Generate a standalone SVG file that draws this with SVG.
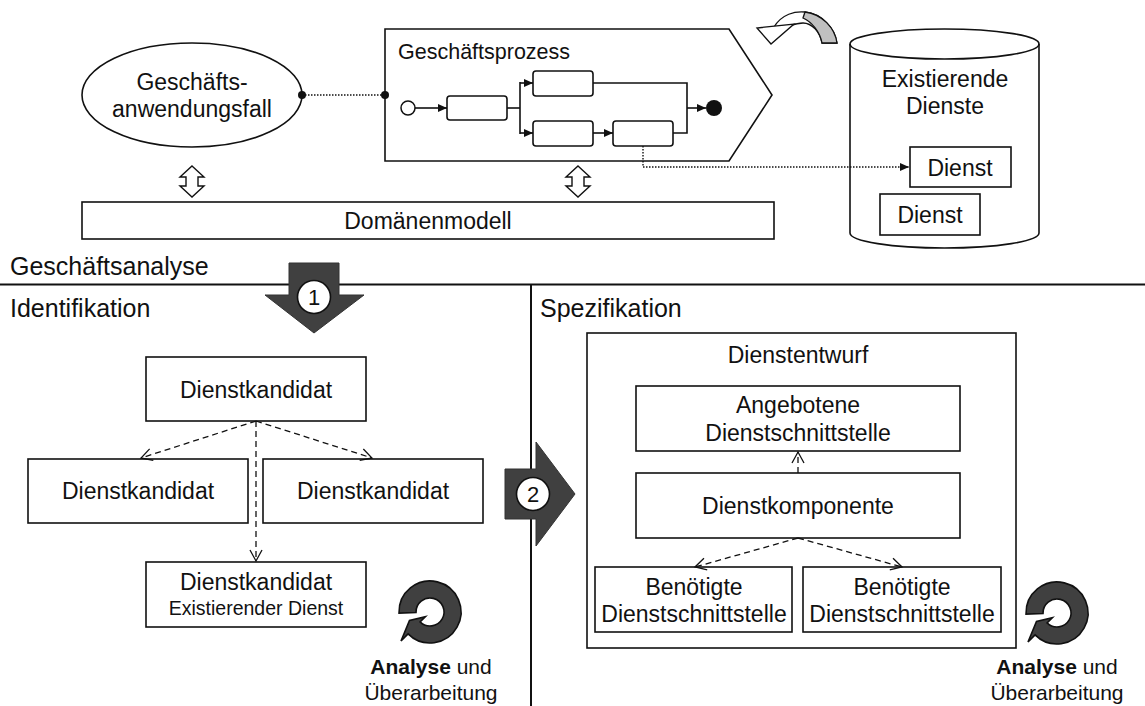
<svg xmlns="http://www.w3.org/2000/svg" width="1145" height="706" viewBox="0 0 1145 706">
<style>
text{font-family:"Liberation Sans",Arial,sans-serif;fill:#111}
.t{font-size:23px;text-anchor:middle}
.s{font-size:19.5px;text-anchor:middle}
.h{font-size:25px}
.box{fill:#fff;stroke:#111;stroke-width:1.6}
.ln{fill:none;stroke:#111;stroke-width:1.6}
.dot{fill:none;stroke:#111;stroke-width:1.4;stroke-dasharray:1.5 1.5}
.dash{fill:none;stroke:#111;stroke-width:1.3;stroke-dasharray:6 4}
.big{fill:#404040;stroke:#333;stroke-width:1}
.cyc{fill:#404040;stroke:#111;stroke-width:1.6}
.num{fill:#fff;stroke:#111;stroke-width:1.6}
</style>
<defs>
<marker id="fa" markerWidth="10" markerHeight="10" refX="9" refY="5" orient="auto" markerUnits="userSpaceOnUse">
<path d="M0,1 L9,5 L0,9 Z" fill="#111"/>
</marker>
<marker id="va" markerWidth="14" markerHeight="14" refX="12" refY="7" orient="auto" markerUnits="userSpaceOnUse">
<path d="M1,1 L12,7 L1,13" fill="none" stroke="#111" stroke-width="1.3"/>
</marker>
<marker id="dt" markerWidth="10" markerHeight="10" refX="5" refY="5" markerUnits="userSpaceOnUse">
<circle cx="5" cy="5" r="4" fill="#111"/>
</marker>
<path id="dbl" d="M0,0 L12,11 L6,11 L6,20 L12,20 L0,31 L-12,20 L-6,20 L-6,11 L-12,11 Z"/>
<path id="cyc" d="M-30.98,1.08 A31,31 0 1 1 -21.92,21.92 L-28.99,28.99 L-20.5,8.5 L-4.6,4.6 L-9.90,9.90 A14,14 0 1 0 -13.99,0.49 Z"/>
</defs>

<!-- section frame -->
<g id="frame">
<line x1="0" y1="284.5" x2="1145" y2="284.5" stroke="#111" stroke-width="2"/>
<line x1="531" y1="285" x2="531" y2="706" stroke="#111" stroke-width="2"/>
<text class="h" x="10" y="275">Geschäftsanalyse</text>
<text class="h" x="10" y="317">Identifikation</text>
<text class="h" x="540" y="317">Spezifikation</text>
</g>

<!-- top section -->
<g id="usecase">
<ellipse class="box" cx="192" cy="95" rx="110" ry="52"/>
<text class="t" x="192" y="90">Geschäfts-</text>
<text class="t" x="192" y="117">anwendungsfall</text>
</g>

<g id="process">
<polygon class="box" points="385,29 729,29 772,95 729,161 385,161"/>
<text x="398" y="59" style="font-size:21.5px">Geschäftsprozess</text>
<circle cx="408" cy="108" r="7" fill="#fff" stroke="#111" stroke-width="1.5"/>
<rect class="box" x="447" y="96" width="60" height="24" rx="3"/>
<rect class="box" x="533" y="71" width="60" height="25" rx="3"/>
<rect class="box" x="533" y="121" width="60" height="25" rx="3"/>
<rect class="box" x="613" y="121" width="60" height="25" rx="3"/>
<circle cx="714" cy="108" r="8" fill="#111"/>
<line class="ln" x1="415" y1="108" x2="447" y2="108" marker-end="url(#fa)"/>
<polyline class="ln" points="507,108 520,108"/>
<line class="ln" x1="520" y1="82" x2="520" y2="134"/>
<line class="ln" x1="520" y1="83" x2="533" y2="83" marker-end="url(#fa)"/>
<line class="ln" x1="520" y1="133" x2="533" y2="133" marker-end="url(#fa)"/>
<line class="ln" x1="593" y1="133" x2="613" y2="133" marker-end="url(#fa)"/>
<polyline class="ln" points="593,83 687,83 687,133 673,133"/>
<line class="ln" x1="687" y1="108" x2="706" y2="108" marker-end="url(#fa)"/>
</g>

<g id="rotate-arrow">
<path d="M774,27 C782,14 795,11 805,12 C822,14 835,28 837,43 L822,43 C820,32 812,23 803,23 C797,23 792,25 789,26 Z" fill="#fff" stroke="#111" stroke-width="1.3"/>
<path d="M805,12 C822,14 835,28 837,43 L822,43 C820,32 812,22 803,18 Z" fill="#c0c0c0" stroke="#111" stroke-width="1.3"/>
<polygon points="757,28 771,44 794,24" fill="#fff" stroke="#111" stroke-width="1.3"/>
</g>

<g id="existing">
<path class="box" d="M850,44 A94.5,15 0 0 1 1039,44 L1039,233 A94.5,15 0 0 1 850,233 Z"/>
<path class="ln" d="M850,44 A94.5,15 0 0 0 1039,44"/>
<text class="t" x="945" y="87">Existierende</text>
<text class="t" x="945" y="114">Dienste</text>
</g>
<g id="dienst1">
<rect class="box" x="910" y="147" width="101" height="40"/>
<text class="t" x="960" y="176">Dienst</text>
</g>
<g id="dienst2">
<rect class="box" x="880" y="194" width="100" height="41"/>
<text class="t" x="930" y="223">Dienst</text>
</g>

<g id="domain">
<rect class="box" x="82" y="202" width="692" height="37"/>
<text class="t" x="428" y="229">Domänenmodell</text>
</g>

<g id="dbl-arrows">
<use href="#dbl" x="192" y="166" fill="#fff" stroke="#111" stroke-width="1.4"/>
<use href="#dbl" x="578" y="166" fill="#fff" stroke="#111" stroke-width="1.4"/>
</g>

<!-- step arrows -->
<g id="step1">
<polygon class="big" points="289,263 339,263 339,295 364,295 314,333 265,295 289,295"/>
<circle class="num" cx="314" cy="297" r="16.5"/>
<text class="t" x="314" y="305" style="font-size:22px">1</text>
</g>
<g id="step2">
<polygon class="big" points="505,469 536,469 536,442 575,494 536,546 536,519 505,519"/>
<circle class="num" cx="533" cy="494" r="16.5"/>
<text class="t" x="533" y="502" style="font-size:22px">2</text>
</g>

<!-- identification -->
<g id="dk-top">
<rect class="box" x="146" y="357" width="220" height="64"/>
<text class="t" x="256" y="398">Dienstkandidat</text>
</g>
<g id="dk-left">
<rect class="box" x="28" y="459" width="220" height="64"/>
<text class="t" x="138" y="499">Dienstkandidat</text>
</g>
<g id="dk-right">
<rect class="box" x="263" y="459" width="220" height="64"/>
<text class="t" x="373" y="499">Dienstkandidat</text>
</g>
<g id="dk-bottom">
<rect class="box" x="146" y="562" width="220" height="65"/>
<text class="t" x="256" y="590">Dienstkandidat</text>
<text class="s" x="256" y="615">Existierender Dienst</text>
</g>
<g id="cycle-left">
<use href="#cyc" x="430" y="612" class="cyc"/>
<text x="431" y="674" style="font-size:21px;text-anchor:middle"><tspan font-weight="bold">Analyse</tspan> und</text>
<text x="431" y="700" style="font-size:21px;text-anchor:middle">Überarbeitung</text>
</g>

<!-- specification -->
<g id="design">
<rect class="box" x="587" y="333" width="429" height="315"/>
<text class="t" x="798" y="363">Dienstentwurf</text>
</g>
<g id="offered">
<rect class="box" x="636" y="386" width="324" height="65"/>
<text class="t" x="798" y="413">Angebotene</text>
<text class="t" x="798" y="441">Dienstschnittstelle</text>
</g>
<g id="component">
<rect class="box" x="636" y="473" width="324" height="65"/>
<text class="t" x="798" y="514">Dienstkomponente</text>
</g>
<g id="req-left">
<rect class="box" x="595" y="567" width="197" height="65"/>
<text class="t" x="694" y="595">Benötigte</text>
<text class="t" x="694" y="622">Dienstschnittstelle</text>
</g>
<g id="req-right">
<rect class="box" x="803" y="567" width="198" height="65"/>
<text class="t" x="902" y="595">Benötigte</text>
<text class="t" x="902" y="622">Dienstschnittstelle</text>
</g>
<g id="cycle-right">
<use href="#cyc" x="1057" y="613" class="cyc"/>
<text x="1057" y="674" style="font-size:21px;text-anchor:middle"><tspan font-weight="bold">Analyse</tspan> und</text>
<text x="1057" y="700" style="font-size:21px;text-anchor:middle">Überarbeitung</text>
</g>

<!-- connectors -->
<g id="connectors">
<line class="dot" x1="302" y1="95" x2="385" y2="95" marker-start="url(#dt)" marker-end="url(#dt)"/>
<polyline class="dot" points="643,146 643,167 909,167" marker-end="url(#fa)"/>
<line class="dash" x1="256" y1="421" x2="141" y2="458" marker-end="url(#va)"/>
<line class="dash" x1="256" y1="421" x2="372" y2="458" marker-end="url(#va)"/>
<line class="dash" x1="256" y1="421" x2="256" y2="561" marker-end="url(#va)"/>
<line class="dash" x1="798" y1="473" x2="798" y2="452" marker-end="url(#va)"/>
<line class="dash" x1="798" y1="538" x2="695" y2="567" marker-end="url(#va)"/>
<line class="dash" x1="798" y1="538" x2="902" y2="567" marker-end="url(#va)"/>
</g>
</svg>
